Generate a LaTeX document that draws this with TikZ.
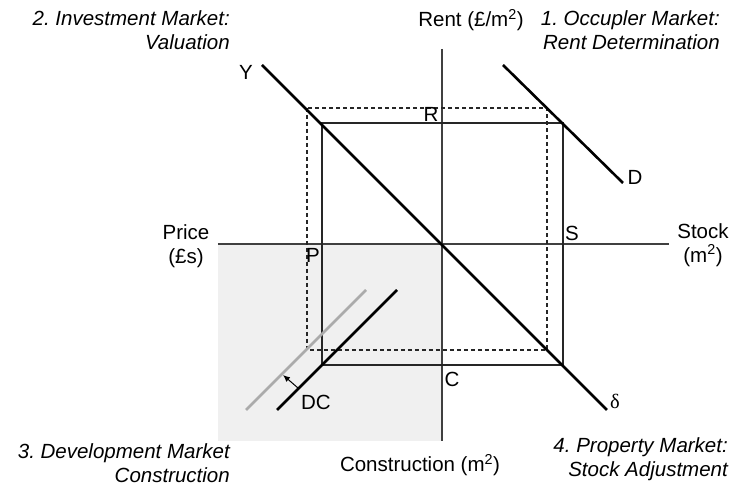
\documentclass[tikz,border=0pt]{standalone}
\usepackage{fontspec}
\setmainfont{Liberation Sans}
\newfontfamily\greekserif{Liberation Serif}
\usetikzlibrary{arrows.meta}
\definecolor{quadfill}{gray}{0.94}
\definecolor{oldcurve}{gray}{0.67}
\frenchspacing

\begin{document}
\begin{tikzpicture}[
x=1pt, y=1pt,
font=\fontsize{20.5}{24}\selectfont,
axis/.style={draw=black!75, line width=1.1pt},
curve/.style={draw=black, line width=2.6pt},
level/.style={draw=black!85, line width=1.3pt},
shifted/.style={draw=black!85, line width=1.1pt, dash pattern=on 4pt off 3pt},
tag/.style={inner sep=0pt},
corner/.style={align=right, inner sep=0pt, font=\fontsize{20.5}{24}\selectfont\itshape},
>=Latex
]
\useasboundingbox (-442,-242) rectangle (297,244);

% quadrant 3 background
\fill[quadfill] (-224,0) rectangle (0,-197);

% axes
\coordinate (north) at (0,195);
\coordinate (south) at (0,-197);
\coordinate (west) at (-224,0);
\coordinate (east) at (227,0);
\draw[axis] (north) -- (south);
\draw[axis] (west) -- (east);

% equilibrium and shifted equilibrium
\draw[level] (-120,121) rectangle (121,-121);
\draw[shifted] (-135,136) rectangle (105,-106);

% schedules
\coordinate (ytop) at (-180,179);
\coordinate (ybot) at (165,-166);
\coordinate (dtop) at (61,179);
\coordinate (dbot) at (181,61);
\coordinate (dclow) at (-165,-166);
\coordinate (dchigh) at (-45,-46);
\coordinate (oldlow) at (-196,-166);
\coordinate (oldhigh) at (-76,-46);
\draw[curve] (ytop) -- (ybot);
\draw[curve] (dtop) -- (dbot);
\draw[curve, draw=oldcurve] (oldlow) -- (oldhigh);
\draw[curve] (dclow) -- (dchigh);
\coordinate (pushfrom) at (-144,-144);
\coordinate (pushto) at (-159,-131);
\draw[-{Latex[length=7pt,width=6pt]}, line width=1pt] (pushfrom) -- (pushto);

% point labels
\node[tag] (ylab) at (-196,172) {Y};
\node[tag] (rlab) at (-11,130) {R};
\node[tag] (dlab) at (193,67) {D};
\node[tag] (slab) at (130,11) {S};
\node[tag] (plab) at (-129,-11) {P};
\node[tag] (clab) at (10,-135) {C};
\node[tag] (dclab) at (-126,-158) {DC};
\node[tag] (deltalab) at (173,-157) {\greekserif δ};

% axis labels
\node[tag] (rent) at (29,224) {Rent (£/m\textsuperscript{2})};
\node[tag, align=center] (price) at (-256,-2) {Price\\(£s)};
\node[tag, align=center] (stock) at (261,-1) {Stock\\(m\textsuperscript{2})};
\node[tag] (constr) at (-22,-221) {Construction (m\textsuperscript{2})};

% market titles
\node[corner, anchor=east] (invest) at (-212,214) {2. Investment Market:\\Valuation};
\node[corner, anchor=east] (occup) at (278,214) {1. Occupler Market:\\Rent Determination};
\node[corner, anchor=east] (devel) at (-212,-219) {3. Development Market\\Construction};
\node[corner, anchor=east] (prop) at (286,-215) {4. Property Market:\\Stock Adjustment};
\end{tikzpicture}
\end{document}
